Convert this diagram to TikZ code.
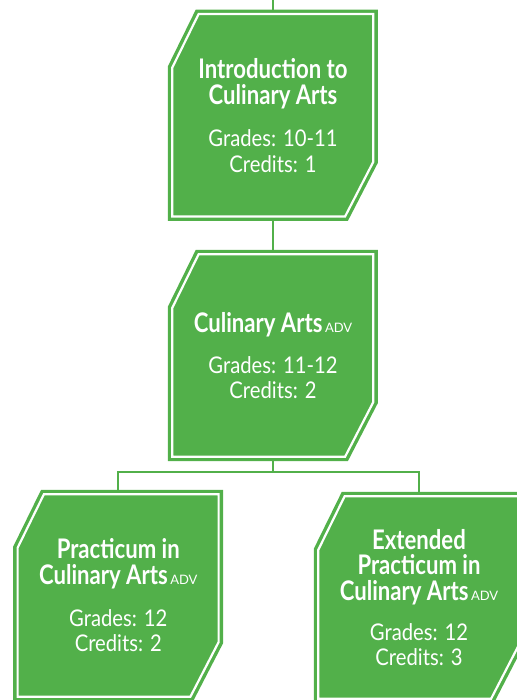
\documentclass[tikz,border=0pt]{standalone}
\usepackage{fontspec}
\setmainfont{Lato}
\newfontfamily\ttlfont{Lato}[FakeStretch=0.82]
\newfontfamily\bodyfont{Lato}[FakeStretch=0.88]
\newfontfamily\advfont{Lato}
\definecolor{cgreen}{RGB}{82,176,74}
\pgfdeclarelayer{background}
\pgfsetlayers{background,main}
\newcommand{\advtag}{\hspace{2.5pt}{\advfont\mdseries\fontsize{13}{13}\selectfont ADV}}
\newcommand{\tl}[1]{{\ttlfont\bfseries\fontsize{27}{25.5}\selectfont #1}}
\newcommand{\chshape}[1]{%
  \begin{pgfonlayer}{background}
  \draw[boxshape]
    ([shift={(30.8,4.5)}]#1.north west)
    -- ([shift={(205.5,4.5)}]#1.north west)
    -- ([shift={(205.5,-59.1)}]#1.south west)
    -- ([shift={(177.3,-4.5)}]#1.south west)
    -- ([shift={(4.5,-4.5)}]#1.south west)
    -- ([shift={(4.5,58)}]#1.north west)
    -- cycle;
  \end{pgfonlayer}}
\tikzset{
  chbox/.style={rectangle, minimum width=210pt, minimum height=211pt, inner sep=0pt,
    align=center, text=white, font=\bodyfont\fontsize{23}{25.5}\selectfont},
  boxshape/.style={draw=cgreen, fill=cgreen, line width=3.4pt, double=white,
    double distance=2.2pt, line join=miter},
  conn/.style={draw=cgreen, line width=2.2pt}
}
\begin{document}
\begin{tikzpicture}[x=1pt,y=-1pt]
\useasboundingbox (0,0) rectangle (516,700);
\node[chbox, text depth=0pt] (b1) at (273,115.25) {\tl{Introduction to}\\\tl{Culinary Arts}\\[17pt]Grades: 10-11\\Credits: 1};
\node[chbox] (b2) at (273,355.5) {\tl{Culinary Arts\advtag}\\[15.5pt]Grades: 11-12\\Credits: 2};
\node[chbox] (b3) at (118.3,595.5) {\tl{Practicum in}\\\tl{Culinary Arts\advtag}\\[16.5pt]Grades: 12\\Credits: 2};
\node[chbox] (b4) at (419,597.5) {\tl{Extended}\\\tl{Practicum in}\\\tl{Culinary Arts\advtag}\\[14.5pt]Grades: 12\\Credits: 3};
\chshape{b1}
\chshape{b2}
\chshape{b3}
\chshape{b4}
\coordinate (top) at (273,0);
\coordinate (j) at (273,472);
\draw[conn] (top) -- (b1.north);
\draw[conn] (b1.south) -- (b2.north);
\draw[conn] (b2.south) -- (j);
\draw[conn] (b3.north) |- (j) -| (b4.north);
\end{tikzpicture}
\end{document}
